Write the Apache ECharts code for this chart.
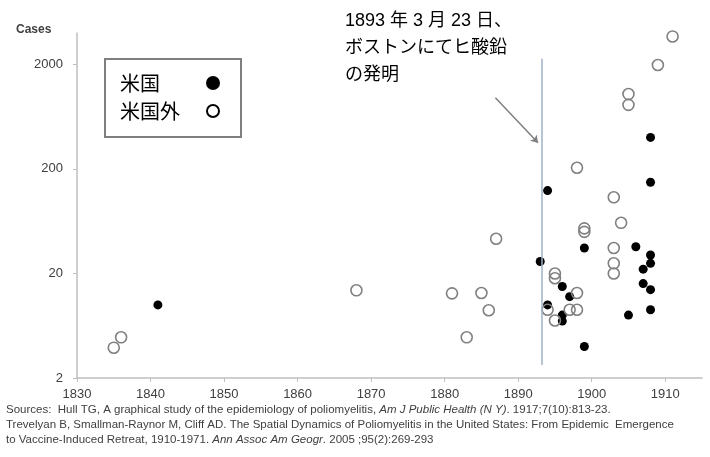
<!DOCTYPE html>
<html>
<head>
<meta charset="utf-8">
<script src="https://cdn.jsdelivr.net/npm/echarts@6/dist/echarts.min.js"></script>
<style>html,body{margin:0;padding:0;background:#fff}#c{width:710px;height:457px}</style>
</head>
<body>
<div id="c"></div>
<script>
// ---- data (year, cases) ----
const usYears  = [1841, 1893, 1894, 1894, 1896, 1896, 1896, 1897, 1899, 1899, 1905, 1906, 1907, 1907, 1908, 1908, 1908, 1908, 1908, 1908];
const usCases  = [10,   26,   124,  10,   15,   8,    7,    12,   35,   4,    8,    36,   22,   16,   400,  149,  30,   25,   14,   9];
const nonUsYears = [1835, 1836, 1868, 1881, 1883, 1885, 1886, 1887, 1894, 1895, 1895, 1895, 1897, 1898, 1898, 1898, 1899, 1899, 1903, 1903, 1903, 1903, 1904, 1905, 1905, 1909, 1911];
const nonUsCases = [3.9,  4.9,  13.8, 12.9, 4.9,  13,   8.9,  43,   9,    20,   18,   7.1,  9,    205,  13,   9,    54,   50,   107,  35,   25,   20,   61,   1040, 820,  1970, 3700];
const xTicks = [1830, 1840, 1850, 1860, 1870, 1880, 1890, 1900, 1910];
const yTicks = [2, 20, 200, 2000];
const seriesNames = ['米国', '米国外'];
const eventYear = 1893.22;          // 1893-03-23
const eventLineCases = [2.66, 2260]; // vertical reference line extent
const arrowFrom = [1886.9, 960];    // [year, cases]
const arrowTo   = [1892.7, 356];

// log-scale helper: position = log10(cases / 2)
const ly = v => Math.log10(v / 2);

const usData = usYears.map((y, i) => [y, ly(usCases[i])]);
const nonUsData = nonUsYears.map((y, i) => [y, ly(nonUsCases[i])]);

const chart = echarts.init(document.getElementById('c'), null, {renderer: 'canvas'});
const tickFont = '"Liberation Sans", Arial, sans-serif';
const jpFont = '"Noto Sans CJK JP", sans-serif';
const srcFont = '"Liberation Sans", Arial, sans-serif';
chart.setOption({
  animation: false,
  title: {
    text: 'Cases', left: 11, top: 19,
    textStyle: {fontSize: 12, fontWeight: 'bold', color: '#404040', fontFamily: tickFont}
  },
  grid: {left: 77, right: 8, top: 33, bottom: 79},
  xAxis: {
    type: 'value', min: 1830, max: 1915, interval: 10,
    splitLine: {show: false},
    axisLine: {lineStyle: {color: '#bfbfbf', width: 1.5}},
    axisTick: {show: true, length: 4, lineStyle: {color: '#bfbfbf'}, customValues: xTicks},
    axisLabel: {customValues: xTicks, margin: 10, fontSize: 13, color: '#404040', fontFamily: tickFont,
      formatter: v => String(v)}
  },
  yAxis: {
    type: 'value', min: 0, max: 3.3, interval: 1,
    splitLine: {show: false},
    axisLine: {show: true, lineStyle: {color: '#bfbfbf', width: 1.5}},
    axisTick: {show: true, length: 4, lineStyle: {color: '#bfbfbf'}, customValues: yTicks.map(ly)},
    axisLabel: {customValues: yTicks.map(ly), margin: 14, fontSize: 13, color: '#404040', fontFamily: tickFont,
      formatter: v => String(Math.round(2 * Math.pow(10, v)))}
  },
  legend: {show: false},
  series: [
    {
      name: seriesNames[0], type: 'scatter', data: usData,
      symbol: 'circle', symbolSize: 9,
      itemStyle: {color: '#000', opacity: 1},
      markLine: {
        silent: true, symbol: ['none', 'none'], label: {show: false},
        lineStyle: {color: '#9db2c8', width: 1.5, type: 'solid'},
        data: [[{coord: [eventYear, ly(eventLineCases[0])]}, {coord: [eventYear, ly(eventLineCases[1])]}]]
      }
    },
    {
      name: seriesNames[1], type: 'scatter', data: nonUsData,
      symbol: 'circle', symbolSize: 11,
      itemStyle: {color: 'rgba(255,255,255,0)', borderColor: '#808080', borderWidth: 1.6, opacity: 1},
      markLine: {
        silent: true, symbol: ['none', 'arrow'], symbolSize: 7, label: {show: false},
        lineStyle: {color: '#7f7f7f', width: 1.5, type: 'solid'},
        data: [[{coord: [arrowFrom[0], ly(arrowFrom[1])]}, {coord: [arrowTo[0], ly(arrowTo[1])]}]]
      }
    }
  ],
  graphic: [
    // legend box
    {type: 'rect', left: 104, top: 58, shape: {width: 136, height: 78},
     style: {fill: '#fff', stroke: '#7f7f7f', lineWidth: 2}, z: 10},
    {type: 'text', x: 120, y: 83, z: 11,
     style: {text: seriesNames[0], font: '20px ' + jpFont, fill: '#000', verticalAlign: 'middle', align: 'left'}},
    {type: 'text', x: 120, y: 111, z: 11,
     style: {text: seriesNames[1], font: '20px ' + jpFont, fill: '#000', verticalAlign: 'middle', align: 'left'}},
    {type: 'circle', shape: {cx: 213, cy: 83, r: 7}, style: {fill: '#000'}, z: 11},
    {type: 'circle', shape: {cx: 213, cy: 111, r: 6}, style: {fill: '#fff', stroke: '#000', lineWidth: 2}, z: 11},
    // annotation
    {
      type: 'text', left: 345, top: 8,
      style: {
        text: '1893 年 3 月 23 日、\nボストンにてヒ酸鉛\nの発明',
        font: '18px "Liberation Sans", "Noto Sans CJK JP", sans-serif',
        lineHeight: 27, fill: '#000'
      }
    },
    // sources
    {
      type: 'text', left: 6, top: 402,
      style: {
        text: 'Sources:  Hull TG, A graphical study of the epidemiology of poliomyelitis, {i|Am J Public Health (N Y)}. 1917;7(10):813-23.\n' +
              'Trevelyan B, Smallman-Raynor M, Cliff AD. The Spatial Dynamics of Poliomyelitis in the United States: From Epidemic  Emergence\n' +
              'to Vaccine-Induced Retreat, 1910-1971. {i|Ann Assoc Am Geogr}. 2005 ;95(2):269-293',
        fontSize: 11.5, fontFamily: srcFont,
        fill: '#404040', lineHeight: 15,
        rich: {i: {fontStyle: 'italic', fontSize: 11.5, fontFamily: srcFont, fill: '#404040', lineHeight: 15}}
      }
    }
  ]
});
</script>
</body>
</html>
